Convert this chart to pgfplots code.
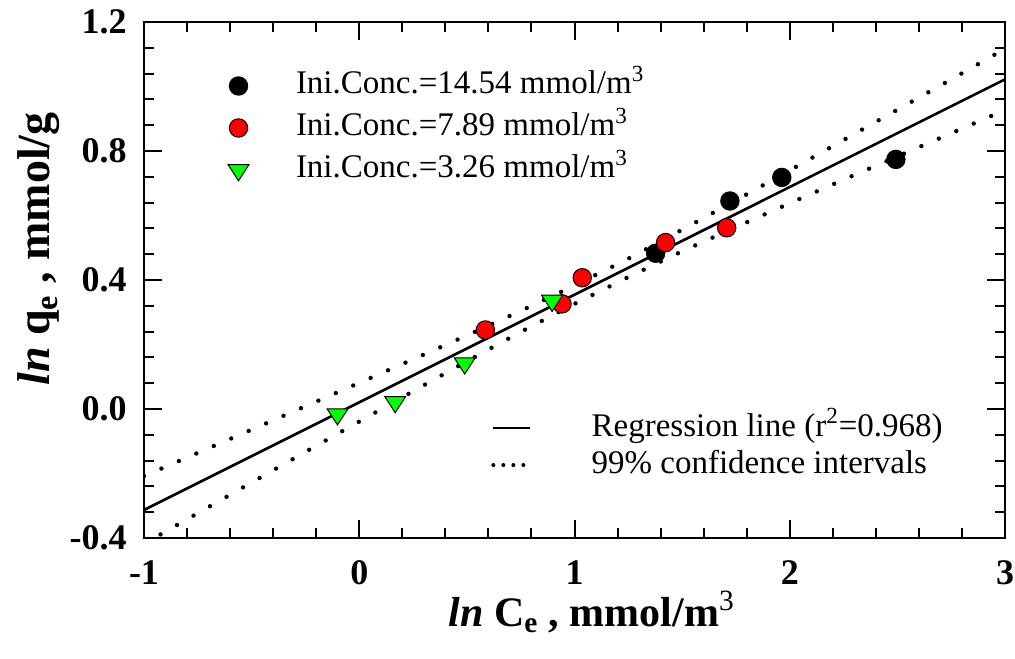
\documentclass[border=0pt]{standalone}
\usepackage{fontspec}
\setmainfont{Liberation Serif}
\usepackage{pgfplots}
\pgfplotsset{compat=1.18}
\definecolor{mkgreen}{RGB}{0,255,0}
\definecolor{mkred}{RGB}{255,0,0}
\begin{document}
\begin{tikzpicture}
\path[use as bounding box] (-72pt,-60pt) rectangle (435.5pt,269pt);
\begin{axis}[
  at={(0pt,0pt)}, anchor=south west,
  scale only axis, width=430.5pt, height=258pt,
  xmin=-1, xmax=3, ymin=-0.4, ymax=1.2,
  xtick={-1,0,1,2,3}, ytick={-0.4,0,0.4,0.8,1.2},
  minor x tick num=4, minor y tick num=4,
  tick align=inside,
  major tick length=9pt, minor tick length=5pt,
  axis line style={line width=1pt},
  every tick/.style={black, line width=1pt},
  /pgf/number format/assume math mode=true,
  ticklabel style={font=\bfseries\fontsize{18}{21}\selectfont, inner sep=0pt},
  xticklabel style={anchor=north, yshift=-11pt, /pgf/number format/.cd, fixed, precision=0},
  yticklabel style={anchor=east, xshift=-8.5pt, /pgf/number format/.cd, fixed, fixed zerofill, precision=1},
  every axis x label/.style={at={(axis description cs:0.52,0)}, anchor=base, yshift=-44pt, inner sep=0pt, font=\bfseries\fontsize{21}{25}\selectfont},
  every axis y label/.style={at={(axis description cs:-0.1092,0.56)}, rotate=90, anchor=base, inner sep=0pt, font=\bfseries\fontsize{23}{27}\selectfont},
  xlabel={\textit{ln} C\textsubscript{e} , mmol/m\textsuperscript{\mdseries 3}},
  ylabel={\textit{ln} q\textsubscript{e} , mmol/g},
  legend style={at={(axis cs:-0.6095,1.0512)}, anchor=north west, draw=none, fill=none,
    inner sep=0pt, outer sep=0pt, column sep=23.5pt, row sep=5pt,
    cells={anchor=west},
    nodes={inner sep=0pt, text height=12pt, text depth=4pt, anchor=west, font=\fontsize{16.5}{19}\selectfont}},
  legend cell align=left,
  legend image code/.code={\draw[#1] plot coordinates {(0pt,0pt)};},
]
% regression line
\addplot[black, line width=1.3pt, forget plot] coordinates {(-1,-0.313) (3,1.022)};
% 99% confidence intervals
\addplot[black, line width=2.2pt, line cap=round, dash pattern=on 0pt off 9.5pt, forget plot] coordinates {
(-1,-0.208) (-0.75,-0.136) (-0.5,-0.064) (-0.25,0.0085) (0,0.081) (0.25,0.154) (0.5,0.228) (0.75,0.304) (1,0.383) (1.25,0.466) (1.5,0.556) (1.75,0.647) (2,0.740) (2.25,0.834) (2.5,0.928) (2.75,1.022) (3,1.117)};
\addplot[black, line width=2.2pt, line cap=round, dash pattern=on 0pt off 9.5pt, forget plot] coordinates {
(-1,-0.418) (-0.75,-0.323) (-0.5,-0.228) (-0.25,-0.133) (0,-0.039) (0.25,0.055) (0.5,0.148) (0.75,0.239) (1,0.326) (1.25,0.409) (1.5,0.489) (1.75,0.564) (2,0.638) (2.25,0.711) (2.5,0.783) (2.75,0.855) (3,0.927)};
% data
\addplot[only marks, mark=*, mark size=4.6pt, mark options={draw=black, fill=black, line width=0.5pt}] coordinates {
(1.377,0.483) (1.722,0.645) (1.963,0.718) (2.493,0.774)};
\addplot[only marks, mark=*, mark size=4.6pt, mark options={draw=black, fill=mkred, line width=0.5pt}] coordinates {
(0.586,0.245) (0.942,0.326) (1.036,0.407) (1.423,0.516) (1.707,0.562)};
\addplot[only marks, mark=triangle*, mark size=5.4pt, mark options={draw=black, fill=mkgreen, line width=0.5pt, rotate=180, xscale=1.12}] coordinates {
(-0.101,-0.016) (0.167,0.022) (0.490,0.142) (0.896,0.336)};
\legend{Ini.Conc.=14.54 mmol/m\textsuperscript{3}, Ini.Conc.=7.89 mmol/m\textsuperscript{3}, Ini.Conc.=3.26 mmol/m\textsuperscript{3}}
\end{axis}
\begin{axis}[
  at={(0pt,0pt)}, anchor=south west,
  scale only axis, width=430.5pt, height=258pt,
  xmin=-1, xmax=3, ymin=-0.4, ymax=1.2,
  hide axis,
  legend style={at={(axis cs:0.6137,-0.0094)}, anchor=north west, draw=none, fill=none,
    inner sep=0pt, outer sep=0pt, column sep=30pt, row sep=2.5pt,
    cells={anchor=west},
    nodes={inner sep=0pt, text height=12pt, text depth=4pt, anchor=west, font=\fontsize{16.5}{19}\selectfont}},
  legend cell align=left,
]
\addlegendimage{legend image code/.code={\draw[black, line width=1.3pt] (0pt,0pt) -- (18.5pt,0pt);}}
\addlegendimage{legend image code/.code={\draw[black, line width=2pt, line cap=round, dash pattern=on 0pt off 5pt] (0pt,0pt) -- (16pt,0pt);}}
\legend{Regression line (r\textsuperscript{2}=0.968), 99\% confidence intervals}
\end{axis}
\end{tikzpicture}
\end{document}
